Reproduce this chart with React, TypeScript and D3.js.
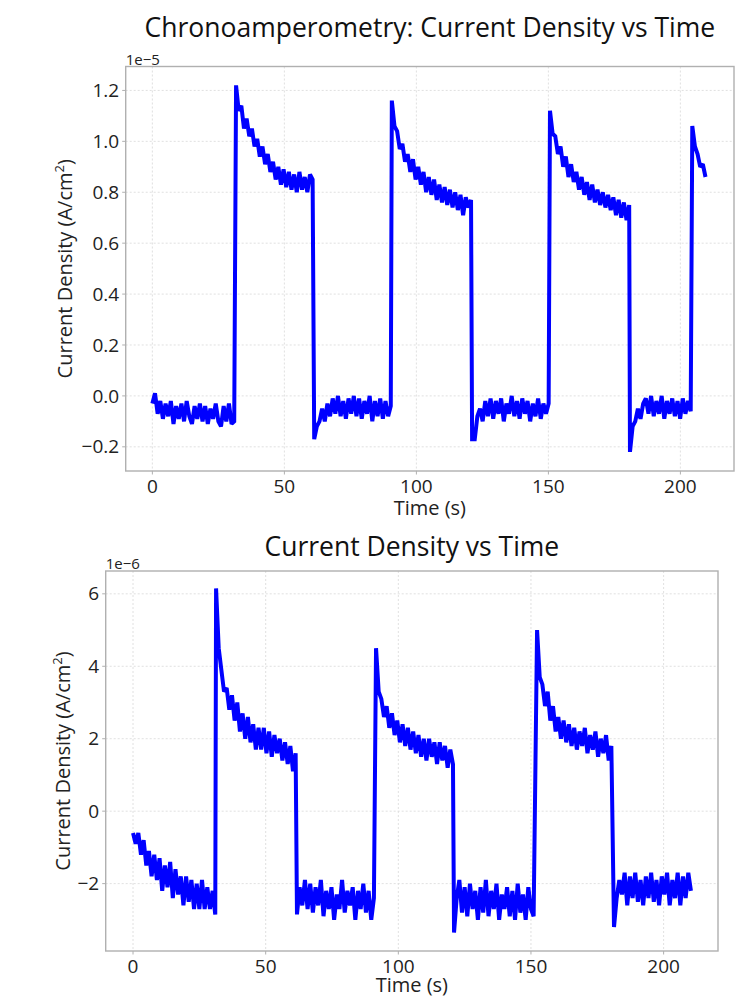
import React from "react";
import * as d3 from "d3";

// ---------- DATA ----------
// Sampling step inside a segment (s)
const STEP = 1;

// Top chart: current density in units of 1e-5 A/cm², segment start times (s)
const topStarts = [0, 31.7, 61.3, 90.7, 121.1, 150.6, 180.9, 204.5];
const topSeg1 = [-0.03, 0.01, -0.07, -0.02, -0.09, -0.03, -0.08, -0.02, -0.11, -0.04, -0.09, -0.03, -0.10, -0.02, -0.08, -0.11, -0.04, -0.09, -0.03, -0.10, -0.04, -0.11, -0.05, -0.09, -0.03, -0.10, -0.12, -0.04, -0.10, -0.03, -0.11, -0.10];
const topSeg2 = [1.22, 1.12, 1.14, 1.05, 1.09, 1.02, 1.05, 0.98, 1.01, 0.94, 0.98, 0.91, 0.95, 0.88, 0.92, 0.85, 0.90, 0.83, 0.89, 0.82, 0.88, 0.81, 0.87, 0.80, 0.88, 0.81, 0.86, 0.80, 0.87, 0.85];
const topSeg3 = [-0.17, -0.12, -0.10, -0.05, -0.10, -0.03, -0.08, -0.01, -0.07, 0.00, -0.08, -0.02, -0.09, -0.01, -0.07, 0.00, -0.08, -0.01, -0.09, -0.02, -0.07, 0.00, -0.10, -0.02, -0.08, -0.01, -0.09, -0.02, -0.08, -0.04];
const topSeg4 = [1.16, 1.06, 1.04, 0.97, 0.99, 0.92, 0.95, 0.88, 0.93, 0.85, 0.90, 0.83, 0.88, 0.80, 0.86, 0.79, 0.85, 0.77, 0.83, 0.76, 0.82, 0.75, 0.81, 0.74, 0.80, 0.73, 0.79, 0.71, 0.78, 0.74, 0.77];
const topSeg5 = [-0.17, -0.17, -0.08, -0.05, -0.10, -0.02, -0.08, -0.01, -0.09, -0.02, -0.07, -0.01, -0.10, -0.03, -0.07, 0.00, -0.08, -0.02, -0.09, -0.01, -0.07, -0.02, -0.10, -0.03, -0.08, -0.01, -0.09, -0.03, -0.07, -0.03];
const topSeg6 = [1.12, 1.03, 1.02, 0.95, 0.98, 0.90, 0.94, 0.86, 0.91, 0.84, 0.88, 0.81, 0.86, 0.79, 0.84, 0.77, 0.83, 0.76, 0.81, 0.75, 0.80, 0.74, 0.79, 0.73, 0.78, 0.71, 0.77, 0.70, 0.76, 0.69, 0.75];
const topSeg7 = [-0.22, -0.12, -0.10, -0.05, -0.09, -0.03, -0.01, -0.07, 0.00, -0.08, -0.02, -0.07, 0.00, -0.09, -0.02, -0.07, -0.01, -0.08, -0.02, -0.09, -0.01, -0.07, -0.02, -0.06];
const topSeg8 = [1.06, 0.98, 0.95, 0.90, 0.91, 0.86];

// Bottom chart: current density in units of 1e-6 A/cm²
const botStarts = [0, 31.3, 61.8, 91.6, 121.0, 152.3, 181.3];
const botSeg1 = [-0.6, -0.9, -0.6, -1.2, -0.8, -1.5, -1.1, -1.8, -1.2, -1.9, -1.3, -2.2, -1.5, -2.1, -1.4, -2.4, -1.6, -2.3, -1.8, -2.6, -1.8, -2.5, -1.9, -2.7, -2.0, -2.7, -1.9, -2.7, -2.1, -2.7, -2.2, -2.85];
const botSeg2 = [6.15, 4.5, 3.9, 3.3, 3.4, 2.8, 3.2, 2.5, 3.0, 2.2, 2.7, 2.0, 2.6, 1.9, 2.4, 1.7, 2.3, 1.7, 2.3, 1.6, 2.2, 1.5, 2.1, 1.6, 2.0, 1.4, 1.9, 1.3, 1.8, 1.1, 1.6];
const botSeg3 = [-2.85, -2.1, -2.6, -1.9, -2.7, -2.0, -2.8, -2.1, -2.6, -1.9, -2.9, -2.2, -2.7, -2.1, -3.0, -2.3, -2.7, -1.9, -2.8, -2.2, -2.6, -2.1, -3.0, -2.2, -2.7, -2.0, -2.8, -2.2, -3.0, -2.4];
const botSeg4 = [4.5, 3.3, 3.1, 2.6, 2.9, 2.3, 2.7, 2.1, 2.5, 1.9, 2.4, 1.8, 2.3, 1.7, 2.2, 1.6, 2.1, 1.5, 2.0, 1.4, 2.0, 1.5, 1.9, 1.3, 1.9, 1.4, 1.8, 1.2, 1.7, 1.3];
const botSeg5 = [-3.35, -2.4, -1.9, -2.8, -2.1, -2.9, -2.0, -2.7, -2.2, -3.0, -2.1, -2.8, -1.9, -2.9, -2.2, -2.7, -2.0, -3.0, -2.3, -2.7, -2.1, -2.9, -2.2, -3.0, -2.0, -2.8, -2.3, -3.0, -2.1, -2.7, -2.9];
const botSeg6 = [5.0, 3.7, 3.5, 2.9, 3.3, 2.5, 2.9, 2.2, 2.6, 2.0, 2.5, 1.9, 2.4, 1.8, 2.3, 1.7, 2.2, 1.8, 2.3, 1.6, 2.1, 1.7, 2.2, 1.5, 2.0, 1.6, 2.1, 1.4, 1.8];
const botSeg7 = [-3.2, -2.4, -1.9, -2.3, -1.7, -2.6, -1.8, -2.4, -1.7, -2.5, -1.9, -2.6, -1.8, -2.4, -1.7, -2.5, -1.9, -2.6, -1.8, -2.3, -1.7, -2.6, -1.9, -2.4, -1.7, -2.6, -1.8, -2.4, -1.7, -2.2];

const xTicks = [0, 50, 100, 150, 200];
const topYTicks = [-0.2, 0.0, 0.2, 0.4, 0.6, 0.8, 1.0, 1.2];
const botYTicks = [-2, 0, 2, 4, 6];

const topTitle = "Chronoamperometry: Current Density vs Time";
const botTitle = "Current Density vs Time";
const xLabel = "Time (s)";

// ---------- helpers ----------
type Pt = { t: number; v: number };
function buildSeries(starts: number[], segs: number[][]): Pt[] {
  const out: Pt[] = [];
  segs.forEach((seg, k) => {
    seg.forEach((v, i) => out.push({ t: starts[k] + i * STEP, v }));
  });
  return out;
}

const topData = buildSeries(topStarts, [topSeg1, topSeg2, topSeg3, topSeg4, topSeg5, topSeg6, topSeg7, topSeg8]);
const botData = buildSeries(botStarts, [botSeg1, botSeg2, botSeg3, botSeg4, botSeg5, botSeg6, botSeg7]);

const FONT = "'Open Sans', 'DejaVu Sans', sans-serif";
const minus = (s: string) => s.replace("-", "\u2212");

type ChartProps = {
  data: Pt[];
  box: { l: number; r: number; t: number; b: number };
  xDomain: [number, number];
  yDomain: [number, number];
  yTicks: number[];
  yFmt: (v: number) => string;
  title: string;
  titleY: number;
  offsetText: string;
  yLabelX: number;
};

function Chart({ data, box, xDomain, yDomain, yTicks, yFmt, title, titleY, offsetText, yLabelX }: ChartProps) {
  const x = d3.scaleLinear().domain(xDomain).range([box.l, box.r]);
  const y = d3.scaleLinear().domain(yDomain).range([box.b, box.t]);
  const line = d3
    .line<Pt>()
    .x((d) => x(d.t))
    .y((d) => y(d.v));
  const cx = (box.l + box.r) / 2;
  const cy = (box.t + box.b) / 2;
  const clipId = `clip-${Math.round(box.t)}`;
  return (
    <g>
      <defs>
        <clipPath id={clipId}>
          <rect x={box.l} y={box.t} width={box.r - box.l} height={box.b - box.t} />
        </clipPath>
      </defs>
      {/* grid */}
      {xTicks.map((t) => (
        <line key={"gx" + t} x1={x(t)} x2={x(t)} y1={box.t} y2={box.b} stroke="#dcdcdc" strokeWidth={0.9} strokeDasharray="2,2" />
      ))}
      {yTicks.map((t) => (
        <line key={"gy" + t} x1={box.l} x2={box.r} y1={y(t)} y2={y(t)} stroke="#dcdcdc" strokeWidth={0.9} strokeDasharray="2,2" />
      ))}
      {/* data line */}
      <path d={line(data) || ""} fill="none" stroke="#0000ff" strokeWidth={4} strokeLinejoin="miter" strokeMiterlimit={2} strokeLinecap="butt" clipPath={`url(#${clipId})`} />
      {/* frame */}
      <rect x={box.l} y={box.t} width={box.r - box.l} height={box.b - box.t} fill="none" stroke="#b0b0b0" strokeWidth={1.4} />
      {/* x ticks */}
      {xTicks.map((t) => (
        <g key={"xt" + t}>
          <line x1={x(t)} x2={x(t)} y1={box.b} y2={box.b + 3.5} stroke="#b0b0b0" strokeWidth={1} />
          <text x={x(t)} y={box.b + 21.5} textAnchor="middle" fontSize={19} fontFamily={FONT} fill="#222">
            {t}
          </text>
        </g>
      ))}
      {/* y ticks */}
      {yTicks.map((t) => (
        <g key={"yt" + t}>
          <line x1={box.l - 3.5} x2={box.l} y1={y(t)} y2={y(t)} stroke="#b0b0b0" strokeWidth={1} />
          <text x={box.l - 6.5} y={y(t)} dy="0.35em" textAnchor="end" fontSize={19} fontFamily={FONT} fill="#222">
            {minus(yFmt(t))}
          </text>
        </g>
      ))}
      {/* offset text */}
      <text x={box.l} y={box.t - 2} fontSize={15} fontFamily={FONT} fill="#222">
        {offsetText}
      </text>
      {/* axis labels */}
      <text x={cx} y={Math.min(box.b + 44, 992)} textAnchor="middle" fontSize={20} fontFamily={FONT} fill="#222">
        {xLabel}
      </text>
      <text transform={`translate(${yLabelX},${cy}) rotate(-90)`} textAnchor="middle" fontSize={20} fontFamily={FONT} fill="#222">
        Current Density (A/cm
        <tspan fontSize={13} dy={-8}>2</tspan>
        <tspan dy={8}>)</tspan>
      </text>
      {/* title */}
      <text x={cx} y={titleY} textAnchor="middle" fontSize={26.5} fontFamily={FONT} fill="#111">
        {title}
      </text>
    </g>
  );
}

export default function App() {
  return (
    <svg
      width={745}
      height={997}
      viewBox="0 0 745 997"
      style={{ position: "absolute", left: 0, top: 0, background: "#fff" }}
    >
      <rect x={0} y={0} width={745} height={997} fill="#fff" />
      <Chart
        data={topData}
        box={{ l: 125.7, r: 734, t: 66.5, b: 471 }}
        xDomain={[-10.1, 220.3]}
        yDomain={[-0.295, 1.294]}
        yTicks={topYTicks}
        yFmt={(v) => d3.format(".1f")(v)}
        title={topTitle}
        titleY={37}
        offsetText={"1e\u22125"}
        yLabelX={71.5}
      />
      <Chart
        data={botData}
        box={{ l: 105.7, r: 718, t: 571, b: 951 }}
        xDomain={[-10.3, 220.5]}
        yDomain={[-3.86, 6.63]}
        yTicks={botYTicks}
        yFmt={(v) => d3.format("d")(v)}
        title={botTitle}
        titleY={556}
        offsetText={"1e\u22126"}
        yLabelX={69.5}
      />
    </svg>
  );
}
